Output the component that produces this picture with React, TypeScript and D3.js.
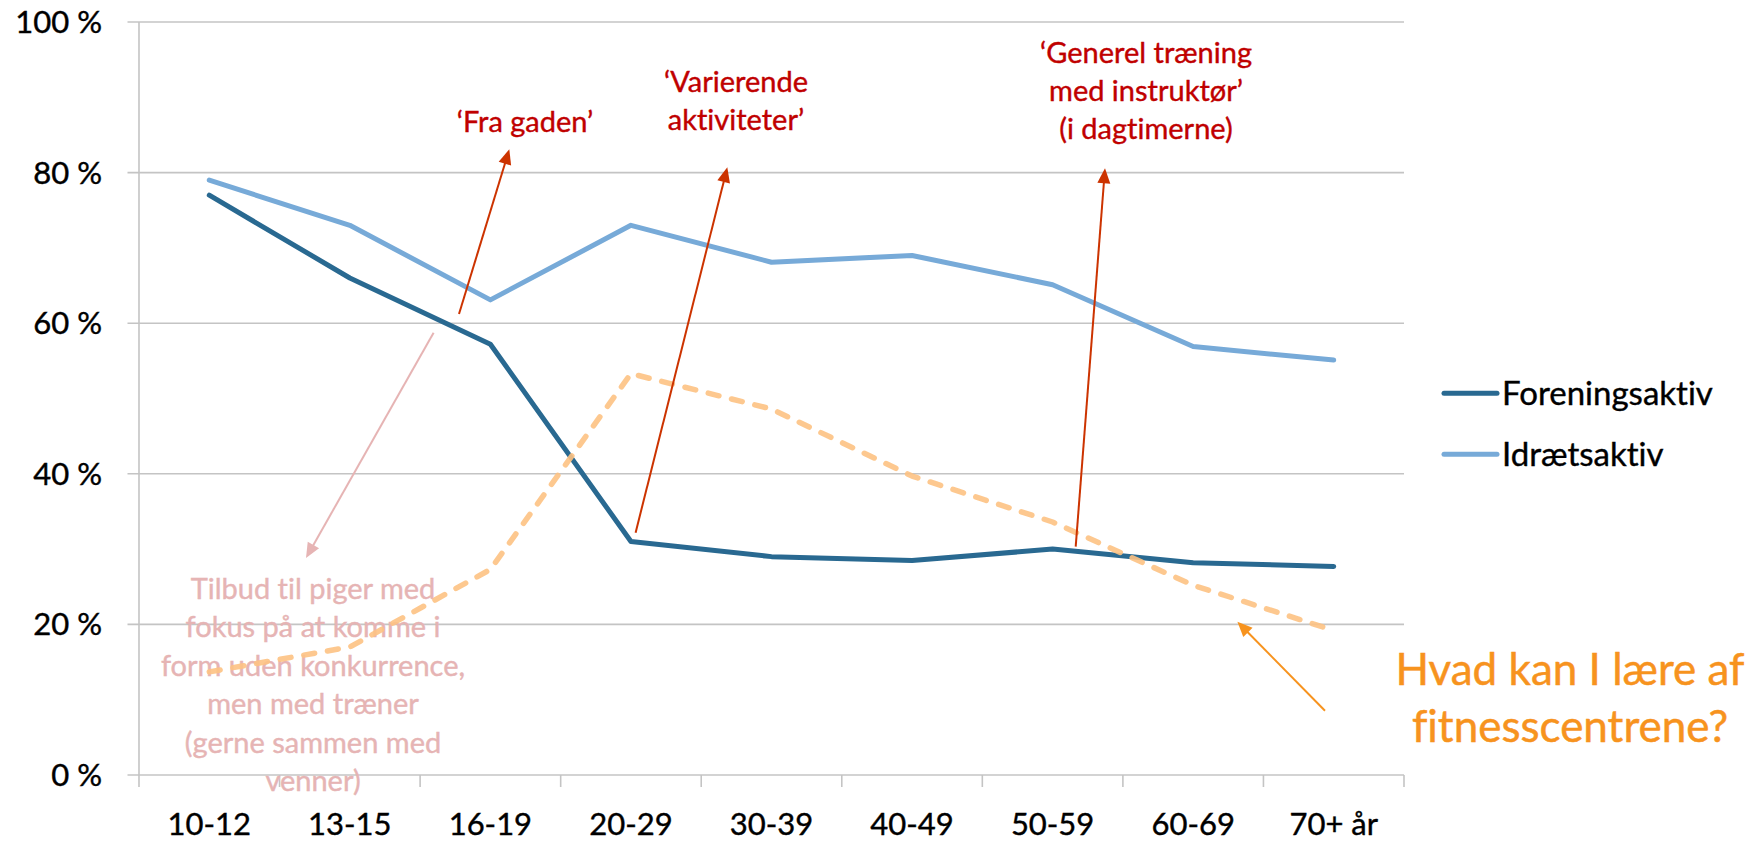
import React from "react";
import * as d3 from "d3";

const categories = ["10-12", "13-15", "16-19", "20-29", "30-39", "40-49", "50-59", "60-69", "70+ år"];
const foreningsaktiv = [77, 66, 57.2, 31, 29, 28.5, 30, 28.2, 27.7];
const idraetsaktiv = [79, 73, 63.1, 73, 68.1, 69, 65.1, 56.9, 55.1];
const fitness = [13.7, 17, 27.3, 53.3, 48.6, 39.7, 33.6, 25.2, 19.2];
const yTicks = [0, 20, 40, 60, 80, 100];
const seriesNames = ["Foreningsaktiv", "Idrætsaktiv"];

const redNotes = [
  { lines: ["\u2018Fra gaden\u2019"], x: 525, y0: 131.5, tail: [459, 314], tip: [509.3, 149.3] },
  { lines: ["\u2018Varierende", "aktiviteter\u2019"], x: 736, y0: 91.7, tail: [635.6, 532.7], tip: [727.3, 167.3] },
  { lines: ["\u2018Generel træning", "med instruktør\u2019", "(i dagtimerne)"], x: 1146, y0: 63.3, tail: [1075.7, 546.7], tip: [1105, 168.3] },
];
const pinkLines = ["Tilbud til piger med", "fokus på at komme i", "form uden konkurrence,", "men med træner", "(gerne sammen med", "venner)"];
const orangeLines = ["Hvad kan I lære af", "fitnesscentrene?"];

const W = 1758, H = 842;
const FONT = "Lato, 'Open Sans', sans-serif";

function Arrow({ tail, tip, color, width = 2, len = 15, half = 6.5 }: any) {
  const dx = tip[0] - tail[0], dy = tip[1] - tail[1];
  const L = Math.hypot(dx, dy);
  const ux = dx / L, uy = dy / L;
  const bx = tip[0] - ux * len, by = tip[1] - uy * len;
  const px = -uy, py = ux;
  const pts = [tip, [bx + px * half, by + py * half], [bx - px * half, by - py * half]];
  return (
    <g>
      <line x1={tail[0]} y1={tail[1]} x2={bx + ux * 2} y2={by + uy * 2} stroke={color} strokeWidth={width} />
      <polygon points={pts.map((p) => p.join(",")).join(" ")} fill={color} />
    </g>
  );
}

function T({ color, sw = 0.4, children, ...rest }: any) {
  return (
    <text fill={color} stroke={color} strokeWidth={sw} style={{ fontVariantLigatures: "none", fontFeatureSettings: '"liga" 0' }} {...rest}>
      {children}
    </text>
  );
}

export default function App() {
  const x0 = 139, x1 = 1404;
  const x = d3.scaleBand<string>().domain(categories).range([x0, x1]).padding(0);
  const y = d3.scaleLinear().domain([0, 100]).range([775, 22]);
  const cx = (c: string) => (x(c) as number) + x.bandwidth() / 2;

  const line = d3.line<number>().x((_, i) => cx(categories[i])).y((v) => y(v));

  const ticksX = categories.map((c) => x(c) as number).concat([x1]);

  return (
    <svg width={W} height={H} style={{ position: "fixed", left: 0, top: 0, display: "block", background: "#fff" }} fontFamily={FONT}>
      {yTicks.map((t) => (
        <line key={t} x1={127.5} x2={x1} y1={y(t)} y2={y(t)} stroke="#c4c4c4" strokeWidth={1.6} />
      ))}
      <line x1={x0} x2={x0} y1={y(100)} y2={y(0) + 12} stroke="#c4c4c4" strokeWidth={1.6} />
      {ticksX.slice(1).map((t, i) => (
        <line key={i} x1={t} x2={t} y1={y(0)} y2={y(0) + 12} stroke="#c4c4c4" strokeWidth={1.6} />
      ))}
      {yTicks.map((t) => (
        <T key={t} x={102} y={y(t) + 11} textAnchor="end" fontSize={31} color="#000">
          {t} %
        </T>
      ))}
      {categories.map((c) => (
        <T key={c} x={cx(c)} y={835} textAnchor="middle" fontSize={31} color="#000">
          {c}
        </T>
      ))}

      {pinkLines.map((l, i) => (
        <T key={i} x={313} y={599 + i * 38.4} textAnchor="middle" fontSize={29} color="#e6b4b4">
          {l}
        </T>
      ))}

      <path d={line(idraetsaktiv) || ""} fill="none" stroke="#77aad8" strokeWidth={5} strokeLinejoin="round" strokeLinecap="round" />
      <path d={line(foreningsaktiv) || ""} fill="none" stroke="#296991" strokeWidth={5} strokeLinejoin="round" strokeLinecap="round" />
      <path d={line(fitness) || ""} fill="none" stroke="#fdc283" strokeOpacity={0.9} strokeWidth={5.5} strokeDasharray="11 13" strokeLinecap="round" strokeLinejoin="round" />

      <line x1={1444} x2={1497} y1={393.3} y2={393.3} stroke="#296991" strokeWidth={5} strokeLinecap="round" />
      <T x={1502} y={405} fontSize={33} color="#000">{seriesNames[0]}</T>
      <line x1={1444} x2={1497} y1={454.3} y2={454.3} stroke="#77aad8" strokeWidth={5} strokeLinecap="round" />
      <T x={1502} y={466} fontSize={33} color="#000">{seriesNames[1]}</T>

      {redNotes.map((n, k) => (
        <g key={k}>
          {n.lines.map((l, i) => (
            <T key={i} x={n.x} y={n.y0 + i * 37.8} textAnchor="middle" fontSize={29} color="#c00000">
              {l}
            </T>
          ))}
          <Arrow tail={n.tail} tip={n.tip} color="#cc3300" />
        </g>
      ))}

      <Arrow tail={[433.6, 332.7]} tip={[306, 558]} color="#e6b4b4" />

      {orangeLines.map((l, i) => (
        <T key={i} x={1570} y={685 + i * 56.5} textAnchor="middle" fontSize={44} color="#f7931e" sw={0.5}>
          {l}
        </T>
      ))}
      <Arrow tail={[1325, 710.7]} tip={[1237.4, 621.7]} color="#f7931e" />
    </svg>
  );
}
